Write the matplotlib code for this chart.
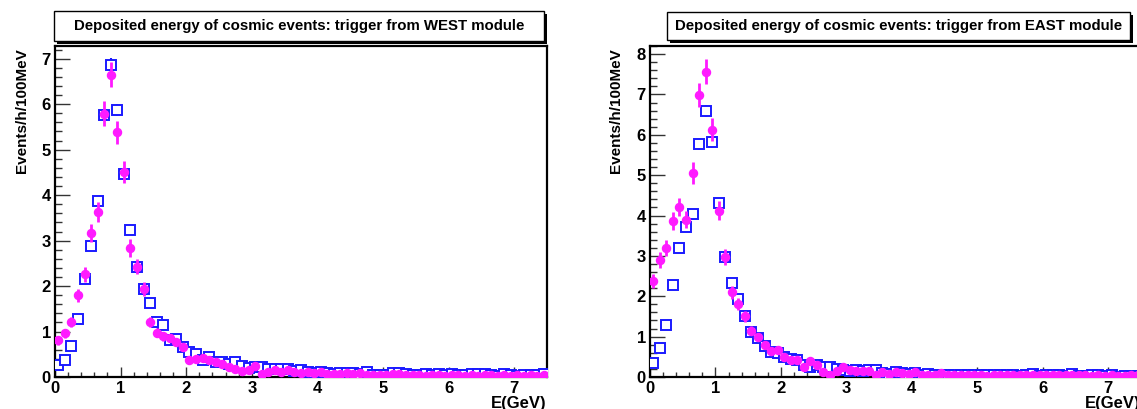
"""Deposited energy of cosmic events, WEST and EAST trigger modules."""

import matplotlib

matplotlib.use("Agg")
import matplotlib.pyplot as plt
import numpy as np
from matplotlib.patches import Rectangle
from matplotlib.ticker import MultipleLocator

FIG_W, FIG_H = 1137, 409

# 0.1 GeV histogram bins, 0 - 7.5 GeV
BIN_WIDTH = 0.1
N_BINS = 75

TITLES = [
    "Deposited energy of cosmic events: trigger from WEST module",
    "Deposited energy of cosmic events: trigger from EAST module",
]
X_LABEL = "E(GeV)"
Y_LABEL = "Events/h/100MeV"

west_blue = [
    0.27, 0.38, 0.68, 1.27, 2.16, 2.89, 3.87, 5.77, 6.87, 5.87,
    4.46, 3.24, 2.43, 1.94, 1.63, 1.21, 1.14, 0.82, 0.84, 0.66,
    0.55, 0.51, 0.38, 0.43, 0.33, 0.33, 0.29, 0.33, 0.24, 0.20,
    0.22, 0.21, 0.18, 0.18, 0.17, 0.18, 0.13, 0.16, 0.11, 0.09,
    0.12, 0.09, 0.07, 0.09, 0.09, 0.09, 0.07, 0.10, 0.05, 0.05,
    0.05, 0.09, 0.09, 0.07, 0.05, 0.04, 0.06, 0.04, 0.06, 0.04,
    0.06, 0.04, 0.04, 0.06, 0.06, 0.06, 0.04, 0.02, 0.06, 0.04,
    0.02, 0.04, 0.04, 0.04, 0.06,
]
west_blue_err = [
    0.04, 0.05, 0.06, 0.08, 0.10, 0.11, 0.12, 0.13, 0.14, 0.13,
    0.12, 0.10, 0.09, 0.08, 0.07, 0.06, 0.06, 0.05, 0.05, 0.05,
    0.04, 0.04, 0.04, 0.04, 0.03, 0.03, 0.03, 0.03, 0.03, 0.03,
    0.03, 0.03, 0.03, 0.03, 0.03, 0.03, 0.02, 0.02, 0.02, 0.02,
    0.02, 0.02, 0.02, 0.02, 0.02, 0.02, 0.02, 0.02, 0.02, 0.02,
    0.02, 0.02, 0.02, 0.02, 0.02, 0.02, 0.02, 0.02, 0.02, 0.02,
    0.02, 0.02, 0.02, 0.02, 0.02, 0.02, 0.02, 0.01, 0.02, 0.02,
    0.01, 0.02, 0.02, 0.02, 0.02,
]
west_magenta = [
    0.81, 0.96, 1.21, 1.80, 2.26, 3.16, 3.62, 5.79, 6.65, 5.38,
    4.51, 2.83, 2.43, 1.94, 1.21, 0.97, 0.90, 0.85, 0.77, 0.66,
    0.37, 0.40, 0.42, 0.38, 0.33, 0.29, 0.21, 0.18, 0.13, 0.15,
    0.24, 0.07, 0.12, 0.15, 0.12, 0.16, 0.11, 0.09, 0.12, 0.09,
    0.12, 0.07, 0.06, 0.07, 0.09, 0.07, 0.09, 0.04, 0.05, 0.04,
    0.04, 0.06, 0.07, 0.05, 0.04, 0.05, 0.03, 0.05, 0.04, 0.03,
    0.05, 0.04, 0.03, 0.04, 0.03, 0.04, 0.05, 0.03, 0.04, 0.03,
    0.04, 0.03, 0.04, 0.03, 0.05,
]
west_magenta_err = [
    0.10, 0.10, 0.12, 0.14, 0.16, 0.20, 0.22, 0.27, 0.28, 0.26,
    0.24, 0.20, 0.17, 0.15, 0.12, 0.10, 0.10, 0.09, 0.09, 0.08,
    0.06, 0.06, 0.06, 0.06, 0.06, 0.05, 0.05, 0.04, 0.04, 0.04,
    0.05, 0.03, 0.04, 0.04, 0.04, 0.04, 0.03, 0.03, 0.04, 0.03,
    0.04, 0.03, 0.03, 0.03, 0.03, 0.03, 0.03, 0.02, 0.03, 0.02,
    0.02, 0.03, 0.03, 0.03, 0.02, 0.03, 0.02, 0.03, 0.02, 0.02,
    0.03, 0.02, 0.02, 0.02, 0.02, 0.02, 0.03, 0.02, 0.02, 0.02,
    0.02, 0.02, 0.02, 0.02, 0.03,
]

east_blue = [
    0.35, 0.73, 1.30, 2.29, 3.19, 3.71, 4.03, 5.76, 6.58, 5.82,
    4.31, 2.97, 2.33, 1.93, 1.50, 1.12, 0.97, 0.78, 0.62, 0.59,
    0.49, 0.45, 0.41, 0.29, 0.26, 0.29, 0.26, 0.25, 0.21, 0.18,
    0.15, 0.18, 0.15, 0.18, 0.18, 0.10, 0.08, 0.12, 0.10, 0.08,
    0.10, 0.04, 0.08, 0.06, 0.06, 0.04, 0.06, 0.06, 0.06, 0.06,
    0.04, 0.04, 0.04, 0.04, 0.04, 0.04, 0.02, 0.04, 0.07, 0.02,
    0.04, 0.04, 0.04, 0.02, 0.07, 0.02, 0.02, 0.04, 0.04, 0.02,
    0.04, 0.01, 0.02, 0.02, 0.02,
]
east_blue_err = [
    0.05, 0.07, 0.09, 0.11, 0.12, 0.13, 0.13, 0.14, 0.15, 0.14,
    0.12, 0.10, 0.09, 0.08, 0.07, 0.06, 0.06, 0.05, 0.05, 0.05,
    0.04, 0.04, 0.04, 0.03, 0.03, 0.03, 0.03, 0.03, 0.03, 0.03,
    0.02, 0.03, 0.02, 0.03, 0.03, 0.02, 0.02, 0.02, 0.02, 0.02,
    0.02, 0.01, 0.02, 0.02, 0.02, 0.01, 0.02, 0.02, 0.02, 0.02,
    0.01, 0.01, 0.01, 0.01, 0.01, 0.01, 0.01, 0.01, 0.02, 0.01,
    0.01, 0.01, 0.01, 0.01, 0.02, 0.01, 0.01, 0.01, 0.01, 0.01,
    0.01, 0.01, 0.01, 0.01, 0.01,
]
east_magenta = [
    2.37, 2.90, 3.19, 3.86, 4.21, 3.90, 5.05, 6.99, 7.56, 6.13,
    4.12, 2.97, 2.10, 1.81, 1.50, 1.15, 0.99, 0.80, 0.64, 0.66,
    0.49, 0.41, 0.43, 0.25, 0.39, 0.29, 0.12, 0.06, 0.14, 0.25,
    0.18, 0.15, 0.14, 0.16, 0.04, 0.12, 0.08, 0.12, 0.10, 0.08,
    0.12, 0.06, 0.06, 0.06, 0.10, 0.05, 0.06, 0.05, 0.05, 0.04,
    0.04, 0.03, 0.05, 0.05, 0.04, 0.05, 0.04, 0.05, 0.04, 0.05,
    0.04, 0.04, 0.05, 0.04, 0.04, 0.04, 0.05, 0.03, 0.04, 0.03,
    0.04, 0.03, 0.03, 0.04, 0.04,
]
east_magenta_err = [
    0.17, 0.19, 0.20, 0.22, 0.23, 0.22, 0.27, 0.30, 0.31, 0.28,
    0.23, 0.19, 0.16, 0.15, 0.13, 0.12, 0.11, 0.10, 0.09, 0.09,
    0.08, 0.07, 0.07, 0.05, 0.07, 0.06, 0.04, 0.03, 0.04, 0.05,
    0.05, 0.04, 0.04, 0.04, 0.02, 0.04, 0.03, 0.04, 0.03, 0.03,
    0.04, 0.03, 0.03, 0.03, 0.03, 0.02, 0.03, 0.02, 0.02, 0.02,
    0.02, 0.02, 0.02, 0.02, 0.02, 0.02, 0.02, 0.02, 0.02, 0.02,
    0.02, 0.02, 0.02, 0.02, 0.02, 0.02, 0.02, 0.02, 0.02, 0.02,
    0.02, 0.02, 0.02, 0.02, 0.02,
]

BLUE = "#1a1aff"
MAGENTA = "#ff1aff"
FONT = ["Liberation Sans", "DejaVu Sans"]


def px(x0, y0, w, h):
    """Pixel box (top-left origin) -> figure fraction rect."""
    return [x0 / FIG_W, 1 - (y0 + h) / FIG_H, w / FIG_W, h / FIG_H]


def draw_title_box(fig, x0, y0, w, h, text):
    # ROOT-style pave: black drop shadow, white box, bold centred text
    left, bottom, width, height = px(x0 + 3, y0 + 3, w, h)
    fig.patches.append(Rectangle((left, bottom), width, height, transform=fig.transFigure,
                                 facecolor="black", edgecolor="none", zorder=1))
    left, bottom, width, height = px(x0, y0, w, h)
    fig.patches.append(Rectangle((left, bottom), width, height, transform=fig.transFigure,
                                 facecolor="white", edgecolor="black", linewidth=1.0, zorder=2))
    fig.text(left + width / 2, bottom + height / 2, text, ha="center", va="center",
             fontsize=10.8, fontweight="bold", family=FONT, zorder=3)


def draw_panel(ax, energy, blue, blue_err, magenta, magenta_err, y_top):
    ax.errorbar(energy, blue, yerr=blue_err, fmt="s", markersize=7, markerfacecolor="white",
                markeredgecolor=BLUE, markeredgewidth=1.4, ecolor=BLUE, elinewidth=1.5,
                capsize=0, zorder=3)
    ax.errorbar(energy, magenta, yerr=magenta_err, fmt="o", markersize=5.8, color=MAGENTA,
                markeredgecolor=MAGENTA, ecolor=MAGENTA, elinewidth=2.0, capsize=0, zorder=4)
    ax.set_xlim(0, 7.5)
    ax.set_ylim(0, y_top)
    ax.xaxis.set_major_locator(MultipleLocator(1))
    ax.xaxis.set_minor_locator(MultipleLocator(0.2))
    ax.yaxis.set_major_locator(MultipleLocator(1))
    ax.yaxis.set_minor_locator(MultipleLocator(0.2))
    ax.tick_params(axis="both", which="both", direction="in", top=False, right=False,
                   color="#333333", labelsize=12)
    ax.tick_params(axis="y", which="major", length=10.5, width=1.0, pad=3)
    ax.tick_params(axis="y", which="minor", length=5.0, width=1.0)
    ax.tick_params(axis="x", which="major", length=7.0, width=1.0, pad=3)
    ax.tick_params(axis="x", which="minor", length=3.5, width=1.0)
    for label in ax.get_xticklabels() + ax.get_yticklabels():
        label.set_fontweight("bold")
        label.set_family(FONT)
    for spine in ax.spines.values():
        spine.set_linewidth(1.6)
        spine.set_color("black")


def main():
    energy = np.arange(N_BINS) * BIN_WIDTH + BIN_WIDTH / 2
    fig = plt.figure(figsize=(FIG_W / 100, FIG_H / 100), dpi=100)

    ax_west = fig.add_axes(px(55, 46, 492, 331))
    ax_east = fig.add_axes(px(650, 46, 491, 331))
    draw_panel(ax_west, energy, west_blue, west_blue_err, west_magenta, west_magenta_err, 7.28)
    draw_panel(ax_east, energy, east_blue, east_blue_err, east_magenta, east_magenta_err, 8.2)

    draw_title_box(fig, 54, 11, 490, 30, TITLES[0])
    draw_title_box(fig, 667, 12, 463, 28, TITLES[1])

    for x_center, x_right in ((22, 546), (616, 1141)):
        fig.text(x_center / FIG_W, 1 - 48 / FIG_H, Y_LABEL, rotation=90, ha="center", va="top",
                 fontsize=11, fontweight="bold", family=FONT)
        fig.text(x_right / FIG_W, 1 - 396 / FIG_H, X_LABEL, ha="right", va="top",
                 fontsize=12, fontweight="bold", family=FONT)

    fig.savefig("out.png", dpi=100)
    plt.close(fig)


if __name__ == "__main__":
    main()
